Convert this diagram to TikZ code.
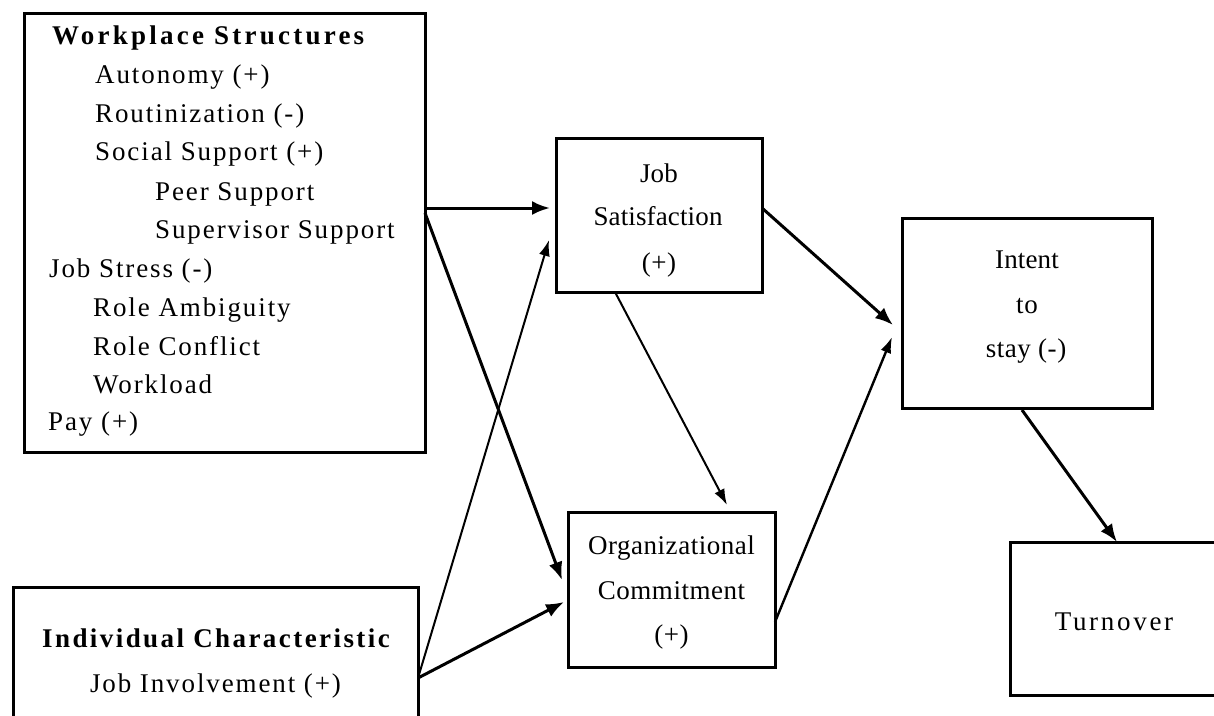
\documentclass[tikz,border=0pt]{standalone}
\usepackage{fontspec}
\setmainfont{Liberation Serif}
% tracked serif faces for the different boxes
\newfontfamily\trackwide{Liberation Serif}[LetterSpace=7]
\newfontfamily\trackhead{Liberation Serif}[LetterSpace=9]
\newfontfamily\trackheadwide{Liberation Serif}[LetterSpace=12]
\newfontfamily\trackmid{Liberation Serif}[LetterSpace=2]
\newfontfamily\tracktight{Liberation Serif}[LetterSpace=0.5]
\newfontfamily\trackturn{Liberation Serif}[LetterSpace=10]
\usetikzlibrary{arrows.meta,calc}

\begin{document}
\begin{tikzpicture}[x=1pt,y=-1pt,
  box/.style={draw, line width=3pt, rectangle, inner sep=0pt, outer sep=0pt},
  itemtxt/.style={inner sep=0pt, anchor=base west, font=\fontsize{27}{30}\selectfont\trackwide},
  headtxt/.style={inner sep=0pt, anchor=base west, font=\fontsize{27}{30}\selectfont\trackhead\bfseries},
  ctrtxt/.style={inner sep=0pt, anchor=base, font=\fontsize{27}{30}\selectfont\trackmid},
  thick arrow/.style={line width=3pt, -{Latex[length=18pt,width=14pt]}},
  thin arrow/.style={line width=2pt, -{Latex[length=16pt,width=11pt]}},
  link/.style={line width=3pt}
]
\useasboundingbox (0,0) rectangle (1214,715);
\fill[white] (0,0) rectangle (1214,715);

% ---- boxes ----
\node[box, minimum width=401pt, minimum height=439pt] (ws) at (224.5,232.5) {};
\node[box, minimum width=405pt, minimum height=160pt] (ic) at (215.5,667) {};
\node[box, minimum width=206pt, minimum height=154pt] (js) at (659,215) {};
\node[box, minimum width=207pt, minimum height=155pt] (oc) at (671.5,589.5) {};
\node[box, minimum width=250pt, minimum height=190pt] (is) at (1027,313) {};
\node[box, minimum width=230pt, minimum height=153pt] (to) at (1125,618.5) {};

% ---- workplace structures list ----
\node[headtxt, font=\fontsize{27}{30}\selectfont\trackheadwide\bfseries] (w0) at (52,44) {Workplace Structures};
\node[itemtxt] (w1) at (95,83) {Autonomy (+)};
\node[itemtxt] (w2) at (95,122) {Routinization (-)};
\node[itemtxt] (w3) at (95,160) {Social Support (+)};
\node[itemtxt] (w4) at (155,200) {Peer Support};
\node[itemtxt] (w5) at (155,238) {Supervisor Support};
\node[itemtxt] (w6) at (49,277) {Job Stress (-)};
\node[itemtxt] (w7) at (93,316) {Role Ambiguity};
\node[itemtxt] (w8) at (93,355) {Role Conflict};
\node[itemtxt] (w9) at (93,393) {Workload};
\node[itemtxt] (w10) at (48,430) {Pay (+)};

% ---- individual characteristic ----
\node[headtxt, anchor=base] (i0) at (216,647) {Individual Characteristic};
\node[itemtxt, anchor=base] (i1) at (215.5,692) {Job Involvement (+)};

% ---- job satisfaction ----
\node[ctrtxt, font=\fontsize{27}{30}\selectfont\tracktight] (j0) at (659,182) {Job};
\node[ctrtxt, font=\fontsize{27}{30}\selectfont\tracktight] (j1) at (658,225) {Satisfaction};
\node[ctrtxt] (j2) at (659,271) {(+)};

% ---- organizational commitment ----
\node[ctrtxt] (o0) at (671.5,554) {Organizational};
\node[ctrtxt] (o1) at (671.5,599) {Commitment};
\node[ctrtxt] (o2) at (671.5,643) {(+)};

% ---- intent to stay ----
\node[ctrtxt, font=\fontsize{27}{30}\selectfont\tracktight] (s0) at (1027,268) {Intent};
\node[ctrtxt] (s1) at (1027,313) {to};
\node[ctrtxt] (s2) at (1026,357) {stay (-)};

% ---- turnover ----
\node[ctrtxt, font=\fontsize{27}{30}\selectfont\trackturn] (t0) at (1114,630) {Turnover};

% ---- paths ----
\draw[thick arrow] ($(ws.north east)+(0,195)$) -- ($(js.north west)+(-6,70)$);
\draw[link, thick arrow] ($(ws.north east)+(0,200)$) -- ($(oc.north west)+(-6,68)$);
\draw[thin arrow] ($(ic.north east)+(0,91)$) -- ($(js.north west)+(-7,102)$);
\draw[thick arrow] ($(ic.north east)+(0,91)$) -- ($(oc.north west)+(-4,90)$);
\draw[thick arrow] ($(js.north east)+(0,70)$) -- ($(is.north west)+(-9,107)$);
\draw[thin arrow, line width=2.4pt] ($(oc.north east)+(0,110)$) -- ($(is.north west)+(-10,119)$);
\draw[thin arrow] ($(js.south west)+(59,0)$) -- ($(oc.north west)+(159,-7)$);
\draw[thick arrow] ($(is.south west)+(120,2)$) -- ($(to.north west)+(107,0)$);
\end{tikzpicture}
\end{document}
